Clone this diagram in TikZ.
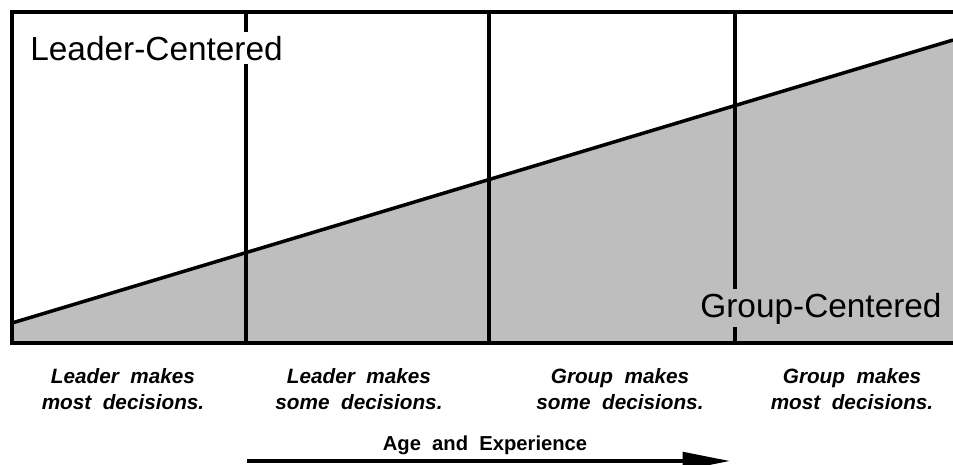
\documentclass[tikz,border=0pt]{standalone}
\usepackage{fontspec}
\setsansfont{Liberation Sans}
\usetikzlibrary{arrows.meta}
\definecolor{groupgray}{RGB}{190,190,190}

\begin{document}
\begin{tikzpicture}[x=0.02cm,y=-0.02cm, every node/.style={font=\sffamily,inner sep=2pt}, rule/.style={line width=2pt,black}, zone/.style={font=\sffamily\fontsize{19}{22}\selectfont,anchor=base west}, note/.style={font=\sffamily\bfseries\itshape\fontsize{11.8}{14.7}\selectfont,align=center}]
\useasboundingbox (0,0) rectangle (953,464);
% shaded share of the group under the rising line
\fill[groupgray] (12,323) -- (953,40) -- (953,343) -- (12,343) -- cycle;
\draw[rule] (12,323) -- (953,40);
\draw[rule] (953,12) -- (12,12) -- (12,343) -- (953,343);
\draw[rule] (246,12) -- (246,343);\draw[rule] (489,12) -- (489,343);\draw[rule] (735,12) -- (735,343);
\node[zone,fill=white] (lead) at (26.5,60) {Leader-Centered};
\node[zone,fill=groupgray] (group) at (696.5,317) {Group-Centered};
\node[note] (n1) at (123,389) {Leader\ \ makes\\most\ \ decisions.};
\node[note] (n2) at (359,389) {Leader\ \ makes\\some\ \ decisions.};
\node[note] (n3) at (620,389) {Group\ \ makes\\some\ \ decisions.};
\node[note] (n4) at (852,389) {Group\ \ makes\\most\ \ decisions.};
\node[font=\sffamily\bfseries\fontsize{11.5}{14}\selectfont,anchor=base] (age) at (485,450) {Age\ \ and\ \ Experience};
\coordinate (from) at (247,461);\coordinate (to) at (730,461);
\draw[rule,-{Triangle[length=27pt,width=10pt]}] (from) -- (to);
\end{tikzpicture}
\end{document}
